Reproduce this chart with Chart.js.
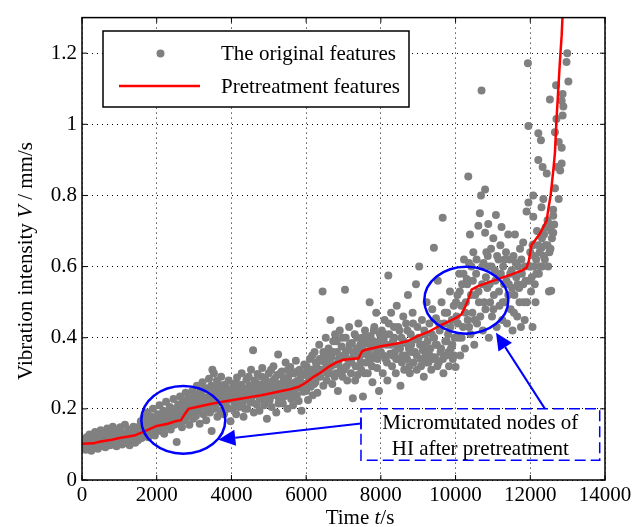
<!DOCTYPE html>
<html>
<head>
<meta charset="utf-8">
<script src="https://cdn.jsdelivr.net/npm/chart.js@4.4.1/dist/chart.umd.min.js"></script>
<style>
html, body { margin: 0; padding: 0; background: #fff; }
</style>
</head>
<body>
<canvas id="myChart" width="644" height="527"></canvas>
<script>
// tick values
var xTicks = [0, 2000, 4000, 6000, 8000, 10000, 12000, 14000];
var yTicks = [0, 0.2, 0.4, 0.6, 0.8, 1, 1.2];

// pretreatment features (red line)
var pretreatTime = [0,300,500,800,1000,1400,1700,2000,2300,2500,2650,2750,2850,3100,3500,4000,4800,5600,5800,6000,6200,6400,6600,6800,7000,7400,7500,7600,8000,8400,8700,9000,9300,9600,10000,10150,10250,10350,10430,10600,11000,11500,11800,11900,11960,12030,12080,12260,12440,12480,12545,12615,12660,12700,12750,12795,12840,12870];
var pretreatV = [0.102,0.103,0.108,0.113,0.118,0.125,0.138,0.152,0.158,0.165,0.168,0.185,0.2,0.206,0.215,0.224,0.238,0.256,0.262,0.274,0.29,0.303,0.318,0.33,0.338,0.342,0.362,0.366,0.376,0.383,0.39,0.405,0.418,0.435,0.455,0.465,0.485,0.51,0.535,0.545,0.56,0.578,0.59,0.597,0.615,0.66,0.667,0.693,0.73,0.76,0.8,0.87,0.92,1.01,1.1,1.18,1.25,1.32];

// original features (grey dots), [time, V]
var originalEarly = [
  [0,0.105],[25,0.09],[50,0.115],[75,0.098],[100,0.085],[125,0.12],[150,0.102],[175,0.093],[200,0.128],[225,0.11],
  [250,0.082],[275,0.106],[300,0.118],[325,0.095],[350,0.135],[375,0.1],[400,0.112],[425,0.088],[450,0.124],[475,0.104],
  [500,0.14],[525,0.097],[550,0.115],[575,0.108],[600,0.13],[625,0.092],[650,0.12],[675,0.145],[700,0.105],[725,0.118],
  [750,0.098],[775,0.135],[800,0.112],[825,0.15],[850,0.1],[875,0.125],[900,0.114],[925,0.095],[950,0.138],[975,0.12],
  [1000,0.108],[1025,0.148],[1050,0.126],[1075,0.1],[1100,0.132],[1125,0.115],[1150,0.155],[1175,0.105],[1200,0.128],[1225,0.118],
  [1250,0.142],[1275,0.098],[1300,0.125],[1325,0.136],[1350,0.11],[1375,0.15],[1400,0.12],[1425,0.105],[1450,0.138],[1475,0.126],
  [1500,0.112],[1525,0.15],[1550,0.132],[1575,0.165],[1600,0.118],[1625,0.145],[1650,0.175],[1675,0.128],[1700,0.155],[1725,0.138],
  [1750,0.19],[1775,0.12],[1800,0.162],[1825,0.148],[1850,0.178],[1875,0.135],[1900,0.2],[1925,0.158],[1950,0.125],[1975,0.17],
  [2000,0.145],[2025,0.185],[2050,0.162],[2075,0.21],[2100,0.138],[2125,0.175],[2150,0.155],[2175,0.195],[2200,0.13],[2225,0.168],
  [2250,0.22],[2275,0.15],[2300,0.182],[2325,0.165],[2350,0.205],[2375,0.142],[2400,0.19],[2425,0.172],[2450,0.228],[2475,0.155],
  [2500,0.198],[2534,0.107],[2550,0.175],[2575,0.212],[2600,0.16],[2625,0.235],[2650,0.185],[2675,0.148],[2700,0.22],[2725,0.195],
  [2750,0.168],[2775,0.245],[2800,0.205],[2825,0.178],[2850,0.23],[2875,0.155],[2900,0.215],[2925,0.19],[2950,0.25],[2975,0.172],
  [3000,0.21],[3025,0.24],[3050,0.18],[3075,0.265],[3100,0.195],[3125,0.225],[3150,0.158],[3175,0.25],[3200,0.205],[3225,0.275],
  [3250,0.185],[3275,0.232],[3300,0.212],[3325,0.168],[3350,0.258],[3375,0.22],[3400,0.285],[3425,0.19],[3450,0.245],[3470,0.138],
  [3490,0.31],[3510,0.23],[3530,0.3],[3550,0.2],[3575,0.262],[3600,0.215],[3625,0.178],[3650,0.27],[3675,0.238],[3700,0.195],
  [3725,0.29],[3750,0.222],[3775,0.252],[3800,0.185],[3825,0.268],[3850,0.215],[3875,0.24],[3900,0.2],[3925,0.28],[3950,0.228],[3975,0.165]
];
var originalMiddle = [
  [4000,0.235],[4025,0.2],[4050,0.27],[4075,0.218],[4100,0.25],[4125,0.185],[4150,0.288],[4175,0.23],[4200,0.205],[4225,0.262],
  [4250,0.24],[4275,0.3],[4300,0.215],[4325,0.178],[4350,0.255],[4375,0.228],[4400,0.282],[4425,0.2],[4450,0.245],[4475,0.265],
  [4500,0.22],[4525,0.31],[4550,0.235],[4580,0.365],[4600,0.19],[4625,0.258],[4650,0.275],[4675,0.212],[4700,0.298],[4725,0.24],
  [4750,0.195],[4775,0.268],[4800,0.232],[4825,0.315],[4850,0.25],[4875,0.21],[4900,0.285],[4925,0.238],[4950,0.172],[4975,0.262],
  [5000,0.3],[5025,0.225],[5050,0.255],[5075,0.205],[5100,0.278],[5125,0.32],[5150,0.24],[5175,0.262],[5200,0.19],[5225,0.295],
  [5250,0.353],[5275,0.228],[5300,0.27],[5325,0.248],[5350,0.305],[5375,0.215],[5400,0.285],[5425,0.238],[5450,0.33],[5475,0.26],
  [5500,0.2],[5525,0.29],[5550,0.245],[5575,0.318],[5600,0.228],[5625,0.272],[5650,0.21],[5675,0.3],[5700,0.255],[5725,0.335],
  [5750,0.238],[5775,0.28],[5800,0.222],[5825,0.31],[5850,0.265],[5875,0.195],[5900,0.295],[5925,0.248],[5950,0.325],[5975,0.27],
  [6000,0.25],[6025,0.3],[6050,0.225],[6075,0.285],[6100,0.34],[6125,0.262],[6150,0.31],[6175,0.238],[6200,0.295],[6225,0.36],
  [6250,0.275],[6275,0.32],[6300,0.245],[6325,0.305],[6350,0.38],[6375,0.29],[6400,0.335],[6440,0.53],[6460,0.265],[6480,0.35],
  [6500,0.31],[6525,0.4],[6550,0.28],[6575,0.335],[6600,0.37],[6625,0.3],[6650,0.45],[6675,0.345],[6700,0.27],[6725,0.39],
  [6750,0.325],[6775,0.41],[6800,0.3],[6825,0.36],[6850,0.25],[6875,0.34],[6900,0.42],[6925,0.315],[6950,0.375],[6975,0.29],
  [7000,0.35],[7040,0.535],[7060,0.4],[7080,0.32],[7100,0.28],[7125,0.365],[7150,0.43],[7175,0.335],[7200,0.3],[7225,0.385],
  [7250,0.23],[7275,0.35],[7300,0.41],[7325,0.32],[7350,0.37],[7375,0.295],[7400,0.44],[7425,0.345],[7450,0.38],[7475,0.31],
  [7500,0.4],[7520,0.235],[7550,0.355],[7575,0.42],[7600,0.33],[7625,0.385],[7650,0.3],[7675,0.36],[7700,0.5],[7725,0.405],
  [7750,0.34],[7775,0.275],[7800,0.39],[7825,0.43],[7850,0.35],[7875,0.47],[7900,0.315],[7925,0.38],[7950,0.25],[7975,0.41],
  [8000,0.36],[8025,0.42],[8050,0.3],[8075,0.395],[8100,0.45],[8125,0.34],[8150,0.38],[8175,0.28],[8200,0.575],[8225,0.41],
  [8250,0.355],[8275,0.47],[8300,0.32],[8325,0.39],[8350,0.43],[8375,0.36],[8400,0.3],[8425,0.49],[8450,0.375],[8475,0.34],
  [8500,0.42],[8525,0.265],[8550,0.4],[8575,0.35],[8600,0.46],[8625,0.31],[8650,0.385],[8675,0.44],[8700,0.34],[8725,0.52],
  [8750,0.37],[8775,0.3],[8800,0.41],[8825,0.36],[8850,0.47],[8875,0.33],[8900,0.395],[8940,0.55],[8960,0.35],[8980,0.43],
  [9026,0.6],[9050,0.38],[9075,0.32],[9100,0.45],[9125,0.365],[9150,0.29],[9175,0.41],[9200,0.35],[9225,0.5],[9250,0.39],
  [9275,0.33],[9300,0.44],[9325,0.37],[9350,0.31],[9375,0.48],[9420,0.653],[9425,0.4],[9450,0.345],[9475,0.455],[9500,0.38],
  [9525,0.56],[9550,0.33],[9575,0.42],[9600,0.36],[9625,0.5],[9655,0.737],[9675,0.3],[9700,0.44],[9725,0.39],[9750,0.35],
  [9775,0.47],[9800,0.41],[9825,0.32],[9850,0.53],[9875,0.37],[9900,0.45],[9925,0.34],[9950,0.49],[9975,0.4]
];
var originalLate = [
  [10000,0.318],[10025,0.46],[10050,0.52],[10075,0.4],[10100,0.58],[10125,0.35],[10150,0.49],[10175,0.55],[10200,0.43],[10225,0.62],
  [10250,0.37],[10275,0.5],[10300,0.565],[10325,0.45],[10340,0.853],[10360,0.61],[10385,0.69],[10400,0.41],[10425,0.6],[10450,0.47],
  [10475,0.64],[10500,0.38],[10525,0.52],[10550,0.58],[10575,0.44],[10610,0.715],[10625,0.5],[10650,0.75],[10680,0.8],[10695,1.095],
  [10710,0.55],[10730,0.42],[10750,0.61],[10790,0.817],[10790,0.695],[10800,0.48],[10825,0.64],[10850,0.54],[10875,0.72],[10890,0.4],
  [10900,0.6],[10925,0.5],[10950,0.65],[10975,0.46],[11010,0.68],[11025,0.52],[11050,0.59],[11080,0.745],[11100,0.43],[11125,0.57],
  [11150,0.62],[11175,0.49],[11200,0.66],[11230,0.711],[11250,0.45],[11275,0.6],[11300,0.55],[11325,0.5],[11350,0.64],[11375,0.44],
  [11410,0.69],[11425,0.55],[11450,0.62],[11475,0.48],[11500,0.59],[11525,0.42],[11550,0.63],[11575,0.52],[11590,0.69],[11625,0.57],
  [11650,0.46],[11675,0.6],[11700,0.54],[11725,0.65],[11750,0.43],[11775,0.58],[11810,0.668],[11825,0.5],[11850,0.45],[11875,0.56],
  [11900,0.755],[11936,1.172],[11950,0.995],[11950,0.78],[11975,0.6],[12000,0.64],[12020,0.53],[12040,0.57],[12060,0.43],[12080,0.8],
  [12080,0.74],[12080,0.662],[12100,0.6],[12120,0.55],[12140,0.5],[12160,0.62],[12180,0.7],[12215,0.975],[12215,0.9],[12230,0.58],
  [12250,0.64],[12285,0.955],[12300,0.767],[12300,0.653],[12320,0.6],[12330,0.88],[12350,0.79],[12370,0.69],[12390,0.62],[12410,0.71],
  [12440,0.862],[12460,0.66],[12480,0.6],[12500,0.53],[12510,0.72],[12525,1.07],[12540,0.65],[12560,0.532],[12580,0.68],[12615,0.743],
  [12615,0.695],[12640,0.718],[12660,0.978],[12690,1.11],[12700,1.015],[12760,0.79],[12800,0.87],[12840,0.89],[12840,0.934],[12840,1.066],
  [12865,1.085],[12865,1.025],[12885,1.05],[12970,1.175],[12990,1.2],[13020,1.12]
];
// second pass of dots filling the dense band
var originalDense = [
  [12,0.095],[62,0.1],[112,0.108],[162,0.088],[212,0.115],[262,0.098],[312,0.09],[362,0.12],[412,0.1],[462,0.095],
  [512,0.118],[562,0.105],[612,0.112],[662,0.098],[712,0.125],[762,0.108],[812,0.12],[862,0.102],[912,0.128],[962,0.11],
  [1012,0.122],[1062,0.112],[1112,0.105],[1162,0.13],[1212,0.11],[1262,0.12],[1312,0.108],[1362,0.125],[1412,0.132],[1462,0.115],
  [1512,0.135],[1562,0.12],[1612,0.158],[1662,0.14],[1712,0.165],[1762,0.145],[1812,0.135],[1862,0.158],[1912,0.17],[1962,0.148],
  [2012,0.165],[2062,0.182],[2112,0.158],[2162,0.168],[2212,0.19],[2262,0.175],[2312,0.155],[2362,0.178],[2412,0.2],[2462,0.185],
  [2512,0.165],[2562,0.195],[2612,0.2],[2662,0.21],[2712,0.178],[2762,0.2],[2812,0.225],[2862,0.19],[2912,0.235],[2962,0.205],
  [3012,0.228],[3062,0.215],[3112,0.242],[3162,0.205],[3212,0.235],[3262,0.255],[3312,0.228],[3362,0.2],[3412,0.238],[3462,0.265],
  [3512,0.212],[3562,0.245],[3612,0.28],[3662,0.225],[3712,0.25],[3762,0.265],[3812,0.232],[3862,0.205],[3912,0.255],[3962,0.24],
  [4012,0.255],[4062,0.225],[4112,0.272],[4162,0.245],[4212,0.21],[4262,0.268],[4312,0.25],[4362,0.2],[4412,0.235],[4462,0.29],
  [4512,0.255],[4562,0.218],[4612,0.28],[4662,0.24],[4712,0.26],[4762,0.228],[4812,0.29],[4862,0.265],[4912,0.22],[4962,0.245],
  [5012,0.27],[5062,0.31],[5112,0.238],[5162,0.285],[5212,0.25],[5262,0.215],[5312,0.3],[5362,0.265],[5412,0.235],[5462,0.28],
  [5512,0.31],[5562,0.26],[5612,0.3],[5662,0.245],[5712,0.275],[5762,0.305],[5812,0.26],[5862,0.29],[5912,0.27],[5962,0.3],
  [6012,0.32],[6062,0.27],[6112,0.3],[6162,0.35],[6212,0.27],[6262,0.33],[6312,0.29],[6362,0.34],[6412,0.31],[6462,0.36],
  [6512,0.33],[6562,0.3],[6612,0.35],[6662,0.32],[6712,0.36],[6762,0.29],[6812,0.39],[6862,0.33],[6912,0.3],[6962,0.4],
  [7012,0.31],[7062,0.36],[7112,0.34],[7162,0.38],[7212,0.33],[7262,0.36],[7312,0.28],[7362,0.4],[7412,0.36],[7462,0.33],
  [7512,0.37],[7562,0.3],[7612,0.4],[7662,0.35],[7712,0.38],[7762,0.32],[7812,0.42],[7862,0.37],[7912,0.34],[7962,0.39],
  [8012,0.38],[8062,0.35],[8112,0.41],[8162,0.33],[8212,0.44],[8262,0.38],[8312,0.35],[8362,0.4],[8412,0.34],[8462,0.43],
  [8512,0.37],[8562,0.33],[8612,0.39],[8662,0.35],[8712,0.42],[8762,0.32],[8812,0.38],[8862,0.44],[8912,0.36],[8962,0.31],
  [9012,0.4],[9062,0.34],[9112,0.38],[9162,0.42],[9212,0.33],[9262,0.37],[9312,0.35],[9362,0.41],[9412,0.34],[9462,0.38],
  [9512,0.32],[9562,0.44],[9612,0.37],[9662,0.34],[9712,0.47],[9762,0.39],[9812,0.36],[9862,0.43],[9912,0.38],[9962,0.35],
  [10012,0.5],[10062,0.44],[10112,0.53],[10162,0.4],[10212,0.58],[10262,0.47],[10312,0.55],[10362,0.43],[10412,0.52],[10462,0.56],
  [10512,0.45],[10562,0.62],[10612,0.53],[10662,0.46],[10712,0.6],[10762,0.5],[10812,0.57],[10862,0.63],[10912,0.55],[10962,0.6],
  [11012,0.48],[11062,0.56],[11112,0.63],[11162,0.53],[11212,0.58],[11262,0.5],[11312,0.62],[11362,0.56],[11412,0.52],[11462,0.58],
  [11512,0.54],[11562,0.47],[11612,0.61],[11662,0.55],[11712,0.5],[11762,0.62],[11812,0.55],[11862,0.6],[11912,0.5],[11962,0.56],
  [12012,0.6],[12062,0.66],[12112,0.63],[12162,0.58],[12212,0.66],[12262,0.6],[12312,0.68],[12362,0.63],[12412,0.66],[12462,0.73],
  [12512,0.64],[12562,0.7],[12612,0.76],[12662,0.82],[12712,0.88],[12762,0.95]
];

// annotation anchors in data units
var ellipses = [
  { t: 2712, v: 0.169, rt: 1124, rv: 0.095 },
  { t: 10287, v: 0.5055, rt: 1124, rv: 0.094 }
];
var noteBox = { t0: 7468, t1: 13858, v0: 0.2, v1: 0.0558 };
var arrows = [
  { fromT: 7468, fromV: 0.159, toT: 3649, toV: 0.1135 },
  { fromT: 12394, fromV: 0.2, toT: 11082, toV: 0.4137 }
];

var serif = "'Liberation Serif', 'Times New Roman', serif";
var blue = '#0000ff';

function toXY(p) { return { x: p[0], y: p[1] }; }
var dotData = originalEarly.concat(originalMiddle, originalLate, originalDense).map(toXY);
var lineData = pretreatTime.map(function(t, i) { return { x: t, y: pretreatV[i] }; });

function drawArrow(ctx, x1, y1, x2, y2) {
  var ang = Math.atan2(y2 - y1, x2 - x1);
  var len = 17, half = 8;
  var bx = x2 - len * Math.cos(ang), by = y2 - len * Math.sin(ang);
  ctx.beginPath();
  ctx.moveTo(x1, y1);
  ctx.lineTo(bx, by);
  ctx.stroke();
  ctx.beginPath();
  ctx.moveTo(x2, y2);
  ctx.lineTo(bx + half * Math.sin(ang), by - half * Math.cos(ang));
  ctx.lineTo(bx - half * Math.sin(ang), by + half * Math.cos(ang));
  ctx.closePath();
  ctx.fill();
}

function mixedText(ctx, parts, cx, y) {
  var total = 0;
  parts.forEach(function(p) { ctx.font = p[1] + ' 21px ' + serif; total += ctx.measureText(p[0]).width; });
  var x = cx - total / 2;
  ctx.textAlign = 'left';
  parts.forEach(function(p) {
    ctx.font = p[1] + ' 21px ' + serif;
    ctx.fillText(p[0], x, y);
    x += ctx.measureText(p[0]).width;
  });
}

var extras = {
  id: 'extras',
  afterDraw: function(chart) {
    var ctx = chart.ctx, a = chart.chartArea;
    var xs = chart.scales.x, ys = chart.scales.y;
    ctx.save();

    // frame + inward ticks
    ctx.strokeStyle = '#000';
    ctx.lineWidth = 1.5;
    ctx.strokeRect(a.left, a.top, a.right - a.left, a.bottom - a.top);
    ctx.lineWidth = 1;
    ctx.beginPath();
    xTicks.forEach(function(t) {
      var px = xs.getPixelForValue(t);
      ctx.moveTo(px, a.bottom); ctx.lineTo(px, a.bottom - 5);
      ctx.moveTo(px, a.top); ctx.lineTo(px, a.top + 5);
    });
    yTicks.forEach(function(v) {
      var py = ys.getPixelForValue(v);
      ctx.moveTo(a.left, py); ctx.lineTo(a.left + 5, py);
      ctx.moveTo(a.right, py); ctx.lineTo(a.right - 5, py);
    });
    ctx.stroke();

    // ellipses
    ctx.strokeStyle = blue;
    ctx.fillStyle = blue;
    ctx.lineWidth = 2.5;
    ellipses.forEach(function(e) {
      var cx = xs.getPixelForValue(e.t), cy = ys.getPixelForValue(e.v);
      var rx = xs.getPixelForValue(e.t + e.rt) - cx;
      var ry = cy - ys.getPixelForValue(e.v + e.rv);
      ctx.beginPath();
      ctx.ellipse(cx, cy, rx, ry, 0, 0, Math.PI * 2);
      ctx.stroke();
    });

    // arrows
    ctx.lineWidth = 2;
    arrows.forEach(function(r) {
      drawArrow(ctx, xs.getPixelForValue(r.fromT), ys.getPixelForValue(r.fromV),
        xs.getPixelForValue(r.toT), ys.getPixelForValue(r.toV));
    });

    // dashed note box
    var bl = xs.getPixelForValue(noteBox.t0), br = xs.getPixelForValue(noteBox.t1);
    var bt = ys.getPixelForValue(noteBox.v0), bb = ys.getPixelForValue(noteBox.v1);
    ctx.lineWidth = 1.5;
    ctx.setLineDash([11, 5]);
    ctx.strokeRect(bl, bt, br - bl, bb - bt);
    ctx.setLineDash([]);
    var ay = ys.getPixelForValue(arrows[0].fromV);
    ctx.beginPath();
    ctx.moveTo(bl, ay - 6); ctx.lineTo(bl, ay + 6);
    ctx.stroke();
    ctx.fillStyle = '#000';
    ctx.textAlign = 'center';
    ctx.textBaseline = 'alphabetic';
    ctx.font = '21px ' + serif;
    var bc = (bl + br) / 2;
    ctx.fillText('Micromutated nodes of', bc, bt + 20);
    ctx.fillText('HI after pretreatment', bc, bt + 46);

    // legend
    ctx.fillStyle = '#fff';
    ctx.fillRect(103, 31, 306, 76);
    ctx.strokeStyle = '#000';
    ctx.lineWidth = 1.5;
    ctx.strokeRect(103, 31, 306, 76);
    ctx.fillStyle = '#808080';
    ctx.beginPath();
    ctx.arc(160.5, 53.5, 4, 0, Math.PI * 2);
    ctx.fill();
    ctx.strokeStyle = '#ff0000';
    ctx.lineWidth = 2.5;
    ctx.beginPath();
    ctx.moveTo(119, 86); ctx.lineTo(200, 86);
    ctx.stroke();
    ctx.fillStyle = '#000';
    ctx.textAlign = 'left';
    ctx.font = '21px ' + serif;
    ctx.fillText('The original features', 221, 60);
    ctx.fillText('Pretreatment features', 221, 93);

    // axis titles
    mixedText(ctx, [['Time ', 'normal'], ['t', 'italic'], ['/s', 'normal']], 360, 524);
    ctx.save();
    ctx.translate(32, 261);
    ctx.rotate(-Math.PI / 2);
    mixedText(ctx, [['Vibration intensity ', 'normal'], ['V', 'italic'], [' / mm/s', 'normal']], 0, 0);
    ctx.restore();

    ctx.restore();
  }
};

function plainLabel(v) { return String(v); }

var ctx = document.getElementById('myChart').getContext('2d');
window.myChart = new Chart(ctx, {
  type: 'scatter',
  data: {
    datasets: [{
      label: 'Pretreatment features',
      data: lineData,
      showLine: true,
      borderColor: '#ff0000',
      borderWidth: 2.5,
      pointRadius: 0,
      tension: 0,
      order: 0
    }, {
      label: 'The original features',
      data: dotData,
      backgroundColor: '#808080',
      borderWidth: 0,
      pointRadius: 4,
      order: 1
    }]
  },
  options: {
    responsive: false,
    animation: false,
    events: [],
    layout: { padding: { top: 14, right: 39, left: 0, bottom: 0 } },
    plugins: { legend: { display: false }, tooltip: { enabled: false } },
    scales: {
      x: {
        type: 'linear',
        min: 0,
        max: 14000,
        afterBuildTicks: function(s) { s.ticks = xTicks.map(function(v) { return { value: v }; }); },
        afterFit: function(s) { s.height = 47; },
        ticks: { font: { family: serif, size: 21 }, color: '#000', padding: 3, maxRotation: 0, autoSkip: false, callback: plainLabel },
        grid: { color: '#000', lineWidth: 1, drawTicks: false },
        border: { display: false, dash: [1, 4] }
      },
      y: {
        type: 'linear',
        min: 0,
        max: 1.3,
        afterBuildTicks: function(s) { s.ticks = yTicks.map(function(v) { return { value: v }; }); },
        afterFit: function(s) { s.width = 82; },
        ticks: { font: { family: serif, size: 21 }, color: '#000', padding: 5, callback: plainLabel },
        grid: { color: '#000', lineWidth: 1, drawTicks: false },
        border: { display: false, dash: [1, 4] }
      }
    }
  },
  plugins: [extras]
});
</script>
</body>
</html>
